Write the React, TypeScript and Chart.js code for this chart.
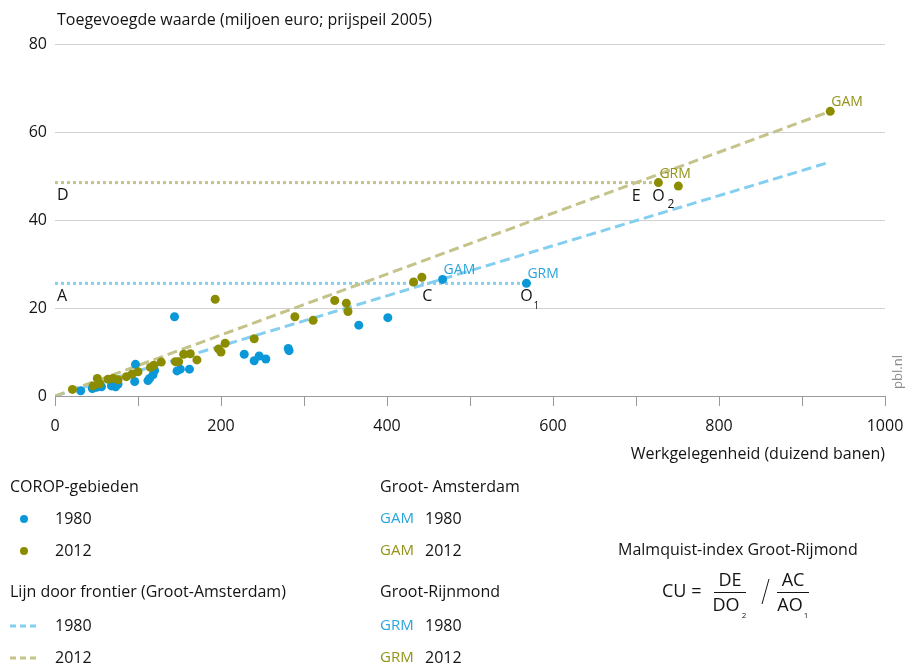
import React, { useEffect, useRef } from 'react';
import { Chart, registerables } from 'chart.js';
Chart.register(...registerables);

const FONT = "'Open Sans', sans-serif";
const DARK = '#141414';
const BLUE = '#0a98d8';
const OLIVE = '#8c8c00';
const BLUE_LINE = '#84cef0';
const OLIVE_LINE = '#c4c38a';
const BLUE_TEXT = '#2aa4dd';
const OLIVE_TEXT = '#939318';

// COROP regions 1980 (x: jobs, thousands; y: value added, bn euro)
const corop1980X = [31, 45, 50, 56, 68, 73, 76, 96, 97, 112, 114, 118, 120, 144, 147, 151, 162, 228, 240, 246, 254, 281, 282, 366, 401];
const corop1980Y = [1.2, 1.7, 2.0, 2.1, 2.3, 2.1, 2.7, 3.3, 7.2, 3.5, 4.0, 4.8, 5.8, 18.0, 5.7, 6.1, 6.1, 9.5, 8.0, 9.1, 8.4, 10.8, 10.3, 16.1, 17.8];
// COROP regions 2012
const corop2012X = [21, 46, 51, 54, 64, 70, 76, 86, 93, 100, 115, 119, 128, 145, 149, 155, 163, 171, 193, 197, 200, 205, 240, 289, 311, 337, 351, 353, 432, 442, 751];
const corop2012Y = [1.5, 2.3, 4.0, 2.8, 3.8, 4.0, 3.7, 4.4, 5.0, 5.5, 6.5, 7.0, 7.7, 7.8, 7.8, 9.5, 9.6, 8.2, 22.0, 10.7, 10.0, 12.0, 13.0, 18.0, 17.2, 21.7, 21.1, 19.2, 25.9, 27.0, 47.7];

// Groot-Amsterdam (GAM) and Groot-Rijnmond (GRM)
const gam1980 = [467, 26.5];
const grm1980 = [568, 25.6];
const gam2012 = [934, 64.7];
const grm2012 = [727, 48.5];

// Frontier lines through Groot-Amsterdam
const frontier1980X = [0, 931];
const frontier1980Y = [0, 53];
const frontier2012X = [0, 934];
const frontier2012Y = [0, 64.7];

const xTickStep = 100;
const xLabelStep = 200;
const yTickStep = 20;

const yTitle = 'Toegevoegde waarde (miljoen euro; prijspeil 2005)';
const xTitle = 'Werkgelegenheid (duizend banen)';

const zip = (xs: number[], ys: number[]) => xs.map((v, i) => ({ x: v, y: ys[i] }));

export default function App() {
  const ref = useRef<HTMLCanvasElement>(null);
  useEffect(() => {
    Chart.defaults.font.family = FONT;
    Chart.defaults.color = DARK;

    const c1980 = frontier1980Y[1] / frontier1980X[1];
    const c2012 = frontier2012Y[1] / frontier2012X[1];
    const cX = grm1980[1] / c1980;
    const eX = grm2012[1] / c2012;
    const FS = 16;

    const textPlugin = {
      id: 'texts',
      afterDraw(chart: any) {
        const { ctx } = chart;
        const xs = chart.scales.x;
        const ys = chart.scales.y;
        const P = (vx: number, vy: number) => [xs.getPixelForValue(vx), ys.getPixelForValue(vy)];
        ctx.save();
        const txt = (s: string, px: number, py: number, color: string, size: number, align: CanvasTextAlign = 'left') => {
          ctx.font = `${size}px ${FONT}`;
          ctx.fillStyle = color;
          ctx.textAlign = align;
          ctx.textBaseline = 'middle';
          ctx.fillText(s, px, py);
        };
        // axis titles
        txt(yTitle, 57, 20, DARK, FS);
        txt(xTitle, 885, 454, DARK, FS, 'right');
        // pbl.nl
        ctx.save();
        ctx.translate(898, 372);
        ctx.rotate(-Math.PI / 2);
        txt('pbl.nl', 0, 0, '#8a8a8a', 13, 'center');
        ctx.restore();

        // point labels
        let p = P(gam1980[0], gam1980[1]);
        txt('GAM', p[0] + 1, p[1] - 9, BLUE_TEXT, 14);
        p = P(grm1980[0], grm1980[1]);
        txt('GRM', p[0] + 1, p[1] - 9, BLUE_TEXT, 14);
        p = P(grm2012[0], grm2012[1]);
        txt('GRM', p[0] + 1, p[1] - 9, OLIVE_TEXT, 14);
        p = P(gam2012[0], gam2012[1]);
        txt('GAM', p[0] + 1, p[1] - 9, OLIVE_TEXT, 14);

        // construction letters
        p = P(0, grm2012[1]);
        txt('D', p[0] + 2, p[1] + 13, DARK, 16);
        p = P(0, grm1980[1]);
        txt('A', p[0] + 2, p[1] + 13, DARK, 16);
        p = P(eX, grm2012[1]);
        txt('E', p[0], p[1] + 14, DARK, 16, 'center');
        p = P(cX, grm1980[1]);
        txt('C', p[0] - 1, p[1] + 13, DARK, 16, 'center');
        p = P(grm2012[0], grm2012[1]);
        txt('O', p[0], p[1] + 14, DARK, 16, 'center');
        txt('2', p[0] + 9, p[1] + 22, DARK, 12, 'left');
        p = P(grm1980[0], grm1980[1]);
        txt('O', p[0], p[1] + 13, DARK, 16, 'center');
        txt('1', p[0] + 7, p[1] + 23, DARK, 10, 'left');

        // legend
        const lx = 10, rx = 380;
        txt('COROP-gebieden', lx, 487, DARK, FS);
        ctx.fillStyle = BLUE;
        ctx.beginPath(); ctx.arc(24, 519, 4, 0, Math.PI * 2); ctx.fill();
        txt('1980', 55, 519, DARK, FS);
        ctx.fillStyle = OLIVE;
        ctx.beginPath(); ctx.arc(24, 551, 4, 0, Math.PI * 2); ctx.fill();
        txt('2012', 55, 551, DARK, FS);
        txt('Lijn door frontier (Groot-Amsterdam)', lx, 592, DARK, FS);
        ctx.lineWidth = 3;
        ctx.setLineDash([6, 4]);
        ctx.strokeStyle = BLUE_LINE;
        ctx.beginPath(); ctx.moveTo(10, 626); ctx.lineTo(40, 626); ctx.stroke();
        ctx.strokeStyle = OLIVE_LINE;
        ctx.beginPath(); ctx.moveTo(10, 658); ctx.lineTo(40, 658); ctx.stroke();
        ctx.setLineDash([]);
        txt('1980', 55, 626, DARK, FS);
        txt('2012', 55, 658, DARK, FS);

        txt('Groot- Amsterdam', rx, 487, DARK, FS);
        txt('GAM', rx, 519, BLUE_TEXT, 15);
        txt('1980', 425, 519, DARK, FS);
        txt('GAM', rx, 551, OLIVE_TEXT, 15);
        txt('2012', 425, 551, DARK, FS);
        txt('Groot-Rijnmond', rx, 592, DARK, FS);
        txt('GRM', rx, 626, BLUE_TEXT, 15);
        txt('1980', 425, 626, DARK, FS);
        txt('GRM', rx, 658, OLIVE_TEXT, 15);
        txt('2012', 425, 658, DARK, FS);

        // formula
        txt('Malmquist-index Groot-Rijmond', 618, 550, DARK, FS);
        txt('CU =', 662, 592, DARK, 18);
        txt('DE', 730, 581, DARK, 18, 'center');
        txt('DO', 726, 606, DARK, 18, 'center');
        txt('2', 744, 616, DARK, 8, 'center');
        txt('AC', 793, 581, DARK, 18, 'center');
        txt('AO', 790, 606, DARK, 18, 'center');
        txt('1', 806, 616, DARK, 8, 'center');
        ctx.strokeStyle = DARK;
        ctx.lineWidth = 1;
        ctx.beginPath(); ctx.moveTo(714, 592.5); ctx.lineTo(746, 592.5); ctx.stroke();
        ctx.beginPath(); ctx.moveTo(777, 592.5); ctx.lineTo(809, 592.5); ctx.stroke();
        ctx.beginPath(); ctx.moveTo(762, 604); ctx.lineTo(769, 579); ctx.stroke();
        ctx.restore();
      },
    };

    const pts1980 = [...zip(corop1980X, corop1980Y), { x: gam1980[0], y: gam1980[1] }, { x: grm1980[0], y: grm1980[1] }];
    const pts2012 = [...zip(corop2012X, corop2012Y), { x: gam2012[0], y: gam2012[1] }, { x: grm2012[0], y: grm2012[1] }];

    const chart = new Chart(ref.current!, {
      type: 'scatter',
      data: {
        datasets: [
          { label: '2012', data: pts2012, backgroundColor: OLIVE, borderWidth: 0, pointRadius: 4.5, order: 0 } as any,
          { label: '1980', data: pts1980, backgroundColor: BLUE, borderWidth: 0, pointRadius: 4.5, order: 1 } as any,
          { label: 'f2012', data: zip(frontier2012X, frontier2012Y), showLine: true, pointRadius: 0, borderColor: OLIVE_LINE, borderWidth: 3, borderDash: [10, 5], order: 2 } as any,
          { label: 'f1980', data: zip(frontier1980X, frontier1980Y), showLine: true, pointRadius: 0, borderColor: BLUE_LINE, borderWidth: 3, borderDash: [10, 5], order: 3 } as any,
          { label: 'd2012', data: [{ x: 0, y: grm2012[1] }, { x: grm2012[0], y: grm2012[1] }], showLine: true, pointRadius: 0, borderColor: OLIVE_LINE, borderWidth: 3, borderDash: [3, 3], order: 4 } as any,
          { label: 'd1980', data: [{ x: 0, y: grm1980[1] }, { x: grm1980[0], y: grm1980[1] }], showLine: true, pointRadius: 0, borderColor: BLUE_LINE, borderWidth: 3, borderDash: [3, 3], order: 5 } as any,
        ],
      },
      options: {
        responsive: false,
        devicePixelRatio: 1,
        animation: false,
        layout: { padding: { left: 0, right: 21, top: 44, bottom: 229 } },
        plugins: { legend: { display: false }, tooltip: { enabled: false } },
        scales: {
          x: {
            type: 'linear',
            min: 0,
            max: 1000,
            afterFit: (s: any) => { s.height = 40; s.paddingLeft = 0; s.paddingRight = 0; },
            ticks: {
              stepSize: xTickStep,
              padding: 11,
              font: { size: FS },
              color: DARK,
              maxRotation: 0,
              autoSkip: false,
              callback: (v: any) => (Number(v) % xLabelStep === 0 ? String(v) : ''),
            },
            grid: { drawOnChartArea: false, drawTicks: true, tickLength: 10, color: '#9a9a9a' },
            border: { display: true, color: '#9a9a9a' },
          },
          y: {
            type: 'linear',
            min: 0,
            max: 80,
            afterFit: (s: any) => { s.width = 55; s.paddingTop = 0; s.paddingBottom = 0; },
            ticks: { stepSize: yTickStep, padding: 8, font: { size: FS }, color: DARK },
            grid: { color: '#d2d2d2', drawTicks: false },
            border: { display: false },
          },
        },
      },
      plugins: [textPlugin],
    });
    return () => chart.destroy();
  }, []);
  return (
    <div style={{ position: 'absolute', left: 0, top: 0, width: 906, height: 665, background: '#fff' }}>
      <canvas ref={ref} width={906} height={665} style={{ display: 'block' }} />
    </div>
  );
}
